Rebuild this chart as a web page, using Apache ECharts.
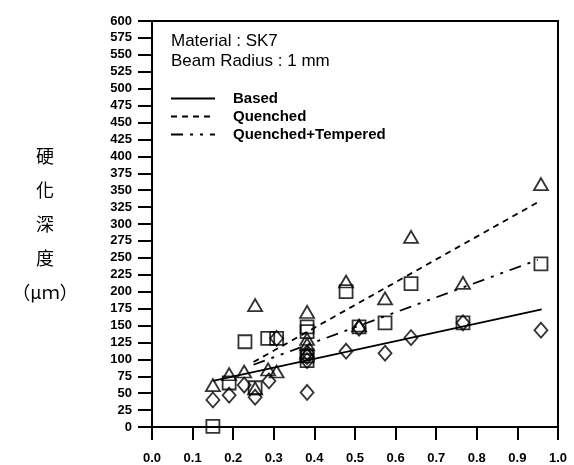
<!DOCTYPE html>
<html>
<head>
<meta charset="utf-8">
<script src="https://cdn.jsdelivr.net/npm/echarts@6/dist/echarts.min.js"></script>
<style>
html,body{margin:0;padding:0;background:#fff;}
#main{width:574px;height:465px;}
</style>
</head>
<body>
<div id="main"></div>
<script>
// x tick labels run 0.0 .. 1.0, y ticks 0 .. 600 step 25
var seriesNames = ['Based', 'Quenched', 'Quenched+Tempered'];

// measured points [x, depth um]
var basedPts = [[0.15,40],[0.19,47],[0.227,62],[0.254,44],[0.288,68],[0.307,131],[0.382,51],[0.382,98],
  [0.382,104],[0.382,110],[0.478,112],[0.51,146],[0.574,109],[0.638,132],[0.766,154],[0.958,143]];
var quenchedPts = [[0.15,62],[0.19,78],[0.227,82],[0.254,180],[0.254,57],[0.286,85],[0.307,82],[0.382,170],
  [0.382,130],[0.382,122],[0.382,110],[0.478,215],[0.51,150],[0.574,190],[0.638,281],[0.766,213],[0.958,359]];
var temperedPts = [[0.15,1],[0.19,65],[0.229,126],[0.254,58],[0.285,131],[0.307,131],[0.382,148],[0.382,141],
  [0.382,105],[0.382,98],[0.478,200],[0.51,148],[0.574,154],[0.638,212],[0.766,154],[0.958,241]];

// fitted lines (end points)
var basedFit = [[0.15,68],[0.96,174]];
var quenchedFit = [[0.25,96],[0.95,332]];
var temperedFit = [[0.25,92],[0.95,247]];

var chart = echarts.init(document.getElementById('main'));

function scatter(data, symbol, size){
  return {
    type: 'scatter', data: data, symbol: symbol, symbolSize: size,
    itemStyle: {color: 'rgba(0,0,0,0)', borderColor: '#000', borderWidth: 1.8},
    emphasis: {disabled: true}, z: 3
  };
}
function fit(name, data, dash){
  return {
    name: name, type: 'line', data: data, symbol: 'none', showSymbol: false,
    lineStyle: {color: '#000', width: 1.8, type: dash},
    itemStyle: {color: '#000'}, z: 2
  };
}

var option = {
  animation: false,
  grid: {left: 152, right: 16, top: 21, bottom: 36, show: true, borderColor: '#000', borderWidth: 2},
  legend: {
    data: seriesNames, orient: 'vertical', left: 165, top: 86,
    itemWidth: 44, itemHeight: 14, itemGap: 3,
    itemStyle: {opacity: 0},
    textStyle: {fontFamily: 'Arial, "Liberation Sans"', fontWeight: 'bold', fontSize: 15, color: '#000', padding: [0,0,0,13]}
  },
  graphic: [
    {type: 'text', left: 171, top: 33, style: {text: 'Material : SK7', font: '17px Arial, "Liberation Sans"', fill: '#000'}},
    {type: 'text', left: 171, top: 53, style: {text: 'Beam Radius : 1 mm', font: '17px Arial, "Liberation Sans"', fill: '#000'}}
  ],
  xAxis: {
    type: 'value', min: 0, max: 1, interval: 0.1,
    axisLine: {lineStyle: {color: '#000', width: 2}},
    axisTick: {length: 13, lineStyle: {color: '#000', width: 2}},
    splitLine: {show: false},
    axisLabel: {margin: 25, color: '#000', fontWeight: 'bold', fontSize: 13, fontFamily: 'Arial, "Liberation Sans"',
      formatter: function(v){ return v.toFixed(1); }}
  },
  yAxis: {
    type: 'value', min: 0, max: 600, interval: 25,
    name: '硬\n化\n深\n度\n（μｍ）', nameLocation: 'middle', nameRotate: 0, nameGap: 107,
    nameTextStyle: {fontFamily: '"Noto Sans CJK TC"', fontSize: 18, color: '#000', lineHeight: 34, align: 'center'},
    axisLine: {lineStyle: {color: '#000', width: 2}},
    axisTick: {length: 14, lineStyle: {color: '#000', width: 2}},
    splitLine: {show: false},
    axisLabel: {margin: 20, color: '#000', fontWeight: 'bold', fontSize: 13, fontFamily: 'Arial, "Liberation Sans"'}
  },
  series: [
    fit('Based', basedFit, 'solid'),
    fit('Quenched', quenchedFit, [6,5]),
    fit('Quenched+Tempered', temperedFit, [12,7,3,7,3,7]),
    scatter(basedPts, 'diamond', [13,15]),
    scatter(quenchedPts, 'triangle', [14,12]),
    scatter(temperedPts, 'rect', 13)
  ]
};
chart.setOption(option);
</script>
</body>
</html>
